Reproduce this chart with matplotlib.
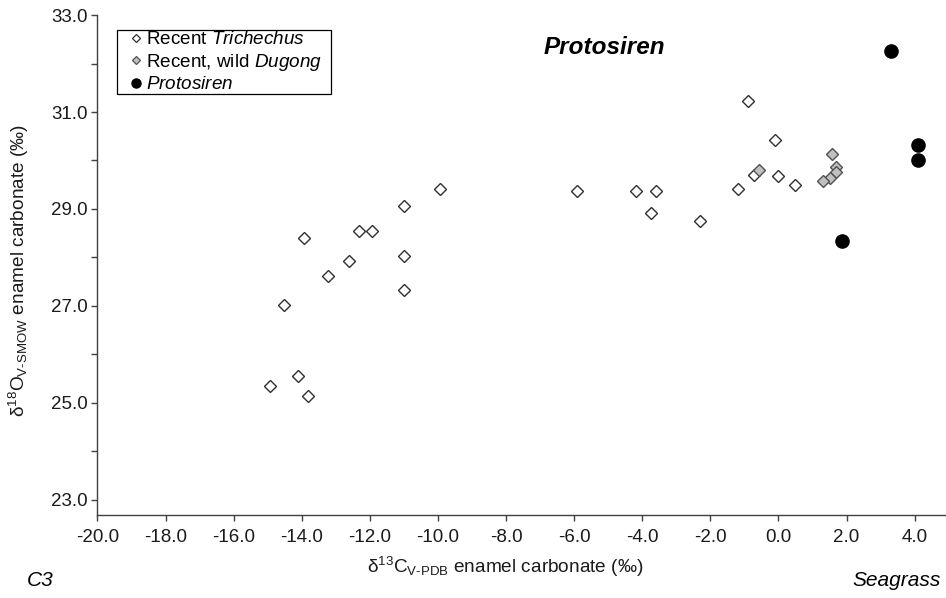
import matplotlib
import matplotlib.pyplot as plt
from matplotlib.lines import Line2D
from matplotlib.ticker import MultipleLocator, FormatStrFormatter

matplotlib.use('Agg')

# data
trich_c13 = [-14.93, -14.52, -14.11, -13.82, -13.93, -13.22, -12.61, -12.31, -11.93,
             -11.01, -11.01, -11.01, -9.94, -5.91, -4.19, -3.61, -3.75, -2.31,
             -1.20, -0.90, -0.10, -0.72, 0.00, 0.48]
trich_o18 = [25.36, 27.01, 25.56, 25.15, 28.41, 27.62, 27.92, 28.55, 28.55,
             29.07, 28.04, 27.32, 29.41, 29.37, 29.37, 29.37, 28.91, 28.75,
             29.42, 31.23, 30.42, 29.70, 29.69, 29.49]
dugong_c13 = [-0.57, 1.56, 1.68, 1.69, 1.51, 1.31]
dugong_o18 = [29.80, 30.13, 29.87, 29.77, 29.63, 29.58]
proto_c13 = [3.30, 4.09, 4.09, 1.88]
proto_o18 = [32.26, 30.31, 30.00, 28.35]

plt.rcParams['font.family'] = ['Liberation Sans', 'DejaVu Sans']
plt.rcParams['mathtext.fontset'] = 'custom'
plt.rcParams['mathtext.rm'] = 'Liberation Sans'
plt.rcParams['mathtext.it'] = 'Liberation Sans:italic'

fig = plt.figure(figsize=(9.46, 5.98), dpi=100)
ax = fig.add_axes([0.103, 0.1388, 0.897, 0.8361])

edge = '#303030'
ax.plot(trich_c13, trich_o18, 'D', ms=6, mfc='white', mec=edge, mew=1.0, ls='None', zorder=3)
ax.plot(dugong_c13, dugong_o18, 'D', ms=6, mfc='#c0c0c0', mec='#505050', mew=1.0, ls='None', zorder=4)
ax.plot(proto_c13, proto_o18, 'o', ms=9.5, mfc='black', mec='black', ls='None', zorder=5)

ax.set_xlim(-20, 4.92)
ax.set_ylim(22.69, 33)
ax.xaxis.set_major_locator(MultipleLocator(2))
ax.yaxis.set_major_locator(MultipleLocator(2, offset=1))
ax.yaxis.set_minor_locator(MultipleLocator(1))
ax.xaxis.set_major_formatter(FormatStrFormatter('%.1f'))
ax.yaxis.set_major_formatter(FormatStrFormatter('%.1f'))
ax.tick_params(axis='both', which='both', direction='out', length=4, width=1,
               color='#404040', labelsize=13.5, labelcolor='#1a1a1a')
ax.tick_params(axis='x', pad=6)
ax.tick_params(axis='y', pad=3)
for s in ['top', 'right']:
    ax.spines[s].set_visible(False)
for s in ['left', 'bottom']:
    ax.spines[s].set_color('#404040')
    ax.spines[s].set_linewidth(1)

legend_elements = [
    Line2D([0], [0], marker='D', ls='None', ms=4.3, mfc='white', mec=edge, mew=0.9,
           label='Recent $\\it{Trichechus}$'),
    Line2D([0], [0], marker='D', ls='None', ms=4.3, mfc='#c0c0c0', mec='#505050', mew=0.9,
           label='Recent, wild $\\it{Dugong}$'),
    Line2D([0], [0], marker='o', ls='None', ms=6.5, mfc='black', mec='black',
           label='$\\it{Protosiren}$'),
]
leg = ax.legend(handles=legend_elements, loc='upper left', bbox_to_anchor=(0.023, 0.97, 0.2522, 0),
                mode='expand', fontsize=13.6, handlelength=1.9, handletextpad=-0.4,
                labelspacing=0.18, borderpad=0.05, borderaxespad=0, fancybox=False, framealpha=1)
leg.get_frame().set_edgecolor('black')
leg.get_frame().set_linewidth(0.9)

fig.text(604 / 946, 1 - 48 / 598, 'Protosiren', ha='center', va='center',
         fontsize=17.5, fontweight='bold', fontstyle='italic')

fig.text(505 / 946, 1 - 567 / 598, '$\\mathrm{\\delta}^{13}$C$_{\\mathrm{V\u2010PDB}}$ enamel carbonate (\u2030)',
         ha='center', va='center', fontsize=13.7, color='#1a1a1a')
fig.text(19 / 946, 1 - 271 / 598, '$\\mathrm{\\delta}^{18}$O$_{\\mathrm{V\u2010SMOW}}$ enamel carbonate (\u2030)',
         ha='center', va='center', rotation=90, fontsize=13.7, color='#1a1a1a')
fig.text(27 / 946, 1 - 581 / 598, 'C3', ha='left', va='center', fontsize=15, fontstyle='italic')
fig.text(941 / 946, 1 - 581 / 598, 'Seagrass', ha='right', va='center', fontsize=15, fontstyle='italic')

plt.savefig('out.png', dpi=100)
plt.close(fig)
